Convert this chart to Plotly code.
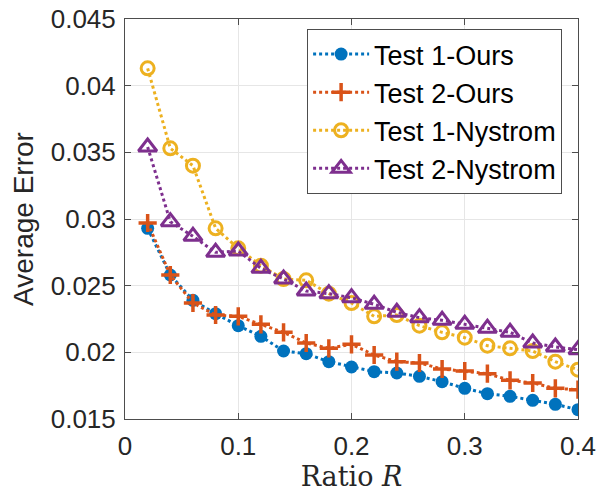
import plotly.graph_objects as go

ratio = [0.02, 0.04, 0.06, 0.08, 0.10, 0.12, 0.14, 0.16, 0.18, 0.20,
         0.22, 0.24, 0.26, 0.28, 0.30, 0.32, 0.34, 0.36, 0.38, 0.40]
test1_ours = [0.0293, 0.0258, 0.0239, 0.0229, 0.0220, 0.0212, 0.0201, 0.0199, 0.0193, 0.0189,
              0.01855, 0.01845, 0.0182, 0.0178, 0.0173, 0.0169, 0.0167, 0.0164, 0.0161, 0.0157]
test2_ours = [0.0297, 0.0258, 0.0237, 0.0228, 0.0227, 0.0221, 0.0215, 0.0207, 0.0203, 0.0206,
              0.0198, 0.0193, 0.0192, 0.01875, 0.0186, 0.0184, 0.0179, 0.0177, 0.0173, 0.0172]
test1_nys = [0.0413, 0.0353, 0.0340, 0.0293, 0.0278, 0.0265, 0.0255, 0.0254, 0.0244, 0.0237,
             0.0227, 0.0228, 0.0220, 0.0215, 0.0211, 0.0205, 0.0203, 0.0201, 0.0193, 0.0187]
test2_nys = [0.0354, 0.0298, 0.0287, 0.0275, 0.0276, 0.0263, 0.0255, 0.0246, 0.0244, 0.0241,
             0.0236, 0.0230, 0.0226, 0.0224, 0.0221, 0.0218, 0.0215, 0.0207, 0.0204, 0.0202]

x_ticks = [0, 0.1, 0.2, 0.3, 0.4]
x_tick_labels = ["0", "0.1", "0.2", "0.3", "0.4"]
y_ticks = [0.015, 0.02, 0.025, 0.03, 0.035, 0.04, 0.045]
y_tick_labels = ["0.015", "0.02", "0.025", "0.03", "0.035", "0.04", "0.045"]

series = [
    ("Test 1-Ours", test1_ours, "#0072BD", dict(symbol="circle", size=13)),
    ("Test 2-Ours", test2_ours, "#D95319", dict(symbol="cross-thin", size=13, line=dict(width=3.5, color="#D95319"))),
    ("Test 1-Nystrom", test1_nys, "#EDB120", dict(symbol="circle-open", size=13, line=dict(width=3))),
    ("Test 2-Nystrom", test2_nys, "#7E2F8E", dict(symbol="triangle-up-open", size=16, line=dict(width=3))),
]

fig = go.Figure()
for name, ys, color, mk in series:
    fig.add_trace(go.Scatter(
        x=ratio, y=ys, name=name, mode="lines+markers",
        line=dict(color=color, width=3, dash="dot"),
        marker=dict(color=color, **mk),
    ))

axis_common = dict(
    showline=True, linecolor="#4d4d4d", linewidth=1, mirror="ticks",
    ticks="inside", ticklen=6, tickcolor="#4d4d4d",
    showgrid=True, gridcolor="#e6e6e6", gridwidth=1, zeroline=False,
    automargin=False,
    tickfont=dict(family="Liberation Sans, Arial", size=26, color="#262626"),
)

fig.update_layout(
    width=601, height=493,
    margin=dict(l=125, r=23, t=19, b=74),
    paper_bgcolor="white", plot_bgcolor="white",
    xaxis=dict(range=[0, 0.4], tickvals=x_ticks, ticktext=x_tick_labels,
               ticklabelstandoff=4,
               title=dict(text="Ratio <i>R</i>", standoff=2,
                          font=dict(family="DejaVu Serif, Liberation Serif, serif", size=27, color="#262626")),
               **axis_common),
    yaxis=dict(range=[0.015, 0.045], tickvals=y_ticks, ticktext=y_tick_labels,
               ticklabelstandoff=3,
               title=dict(text="Average Error", standoff=8,
                          font=dict(family="Liberation Sans, Arial", size=28, color="#262626")),
               **axis_common),
    legend=dict(x=0.402, y=0.975, xanchor="left", yanchor="top",
                bgcolor="white", bordercolor="#4d4d4d", borderwidth=1,
                font=dict(family="Liberation Sans, Arial", size=27, color="black"),
                tracegroupgap=0, itemwidth=56),
    showlegend=True,
)

fig.write_html("out.html", config={"displayModeBar": False},
               post_script="document.body.style.margin='0';document.body.style.padding='0';")
